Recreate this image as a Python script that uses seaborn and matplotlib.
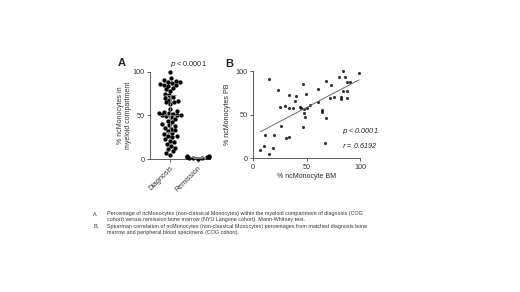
import numpy as np
import pandas as pd
import seaborn as sns
import matplotlib.pyplot as plt

# Panel A: % ncMonocytes in myeloid compartment
diagnosis = [100, 93, 91, 90, 89, 88, 87, 86, 85, 85, 84, 82, 80, 78, 75, 73, 71, 70,
             68, 67, 66, 65, 63, 58, 55, 54, 53, 53, 52, 51, 50, 50, 49, 48, 46, 44,
             42, 40, 39, 38, 36, 35, 33, 32, 30, 29, 27, 26, 25, 23, 21, 19, 17, 15,
             13, 11, 9, 7, 5]
remission = [3.5, 3, 2.5, 2, 2, 1.5, 1, 1, 0.5]
groups = ["Diagnosis", "Remission"]

# Panel B: BM vs PB
bm = [99, 84, 80.6, 86, 87.5, 91, 87.5, 84, 81.9, 82, 87.5, 72.5, 68, 76, 71.9, 61, 60.9,
      64.7, 64.7, 68, 67, 47, 49.4, 53, 50, 47.5, 47.5, 49, 46.3, 43.8, 40.6, 39, 33.8,
      29.7, 33.8, 25, 23.4, 26.5, 15, 11, 20, 31, 33.6, 18.8, 10, 7, 15, 37.7, 44.9]
pb = [97.7, 100, 93, 93, 87.5, 87.5, 76.8, 76.8, 69.6, 67.7, 68.4, 83.6, 88.6, 70.3, 68.4,
      64.6, 79, 55, 53, 45.6, 17, 85.6, 73, 61, 57, 56, 51.7, 46.8, 35.7, 58.5, 70.7, 66,
      72.6, 60, 57, 58.5, 77.6, 37, 90.5, 27, 26.6, 22.8, 24.7, 11.4, 14, 8.7, 4.6, 57.8, 57.8]

caption = [
    ("A.", "Percentage of ncMonocytes (non-classical Monocytes) within the myeloid compartment of diagnosis (COG"),
    ("", "cohort) versus remission bone marrow (NYU Langone cohort). Mann-Whitney test."),
    ("B.", "Spearman correlation of ncMonocytes (non-classical Monocytes) percentages from matched diagnosis bone"),
    ("", "marrow and peripheral blood specimens (COG cohort)."),
]

sns.set_theme(style="ticks")
plt.rcParams['font.family'] = ['Liberation Sans', 'DejaVu Sans']

W, H = 520, 292
fig = plt.figure(figsize=(W / 100, H / 100), dpi=100)

def px(x, y):
    return x / W, 1 - y / H

tick_fs = 5.2
lw = 0.6

# ---- Panel A
axA = fig.add_axes([150 / W, 1 - 159 / H, 60 / W, 87 / H])
dfA = pd.DataFrame({
    "group": [groups[0]] * len(diagnosis) + [groups[1]] * len(remission),
    "value": diagnosis + remission,
})
sns.swarmplot(data=dfA, x="group", y="value", order=groups, color="black",
              size=3.1, ax=axA, clip_on=False)
for i, vals in enumerate([diagnosis, remission]):
    q1, med, q3 = np.percentile(vals, [25, 50, 75])
    hw = 0.34 if i == 0 else 0.3
    axA.hlines(med, i - hw, i + hw, color="gray", lw=0.7, zorder=3)
    axA.hlines([q1, q3], i - hw * 0.6, i + hw * 0.6, color="gray", lw=0.7, zorder=3)
    axA.vlines(i, q1, q3, color="gray", lw=0.7, zorder=3)
axA.set_xlim(-0.71, 1.43)
axA.set_ylim(0, 100)
axA.set_yticks([0, 50, 100])
axA.set_xlabel("")
axA.set_ylabel("")
axA.set_xticks([0, 1])
axA.set_xticklabels(groups, rotation=45, ha="right", rotation_mode="anchor")
sns.despine(ax=axA)

# ---- Panel B
axB = fig.add_axes([253 / W, 1 - 158 / H, 107 / W, 87 / H])
sns.regplot(x=bm, y=pb, ax=axB, ci=None, color="black",
            scatter_kws={"s": 5, "linewidths": 0, "clip_on": False},
            line_kws={"color": "dimgray", "lw": 0.7})
axB.set_xlim(0, 100)
axB.set_ylim(0, 100)
axB.set_xticks([0, 50, 100])
axB.set_yticks([0, 50, 100])
axB.set_xlabel("% ncMonocyte BM", fontsize=5, labelpad=2)
axB.set_ylabel("% ncMonocytes PB", fontsize=5, labelpad=3)
sns.despine(ax=axB)

for ax in (axA, axB):
    ax.tick_params(labelsize=tick_fs, width=lw, length=2.5, pad=1.5, color="#444444",
                   labelcolor="#333333")
    for s in ax.spines.values():
        s.set_linewidth(lw)
        s.set_color("#444444")

# Panel A y label (two lines)
fig.text(*px(124, 115), "% ncMonocytes in\nmyeloid compartment", rotation=90,
         ha="center", va="center", fontsize=5, color="#333333", linespacing=1.2)

# Panel letters and stats
fig.text(*px(118, 63), "A", fontsize=8, fontweight="bold", va="center", ha="left")
fig.text(*px(225, 64), "B", fontsize=8, fontweight="bold", va="center", ha="left")
fig.text(*px(170, 64), r"$\it{p}$ < 0.0001", fontsize=5.2, va="center", ha="left", color="#222222")
fig.text(*px(342, 131), r"$\it{p}$ < 0.0001", fontsize=5.2, va="center", ha="left",
         style="italic", color="#222222")
fig.text(*px(342, 145), r"$\it{r}$ = 0.6192", fontsize=5.2, va="center", ha="left",
         style="italic", color="#222222")

# Caption
ys = [214, 220, 226.5, 232.5]
for (lab, txt), y in zip(caption, ys):
    if lab:
        fig.text(*px(93, y), lab, fontsize=3.9, va="center", ha="left", color="#333333")
    fig.text(*px(107, y), txt, fontsize=3.9, va="center", ha="left", color="#333333")

fig.savefig("out.png", dpi=100)
